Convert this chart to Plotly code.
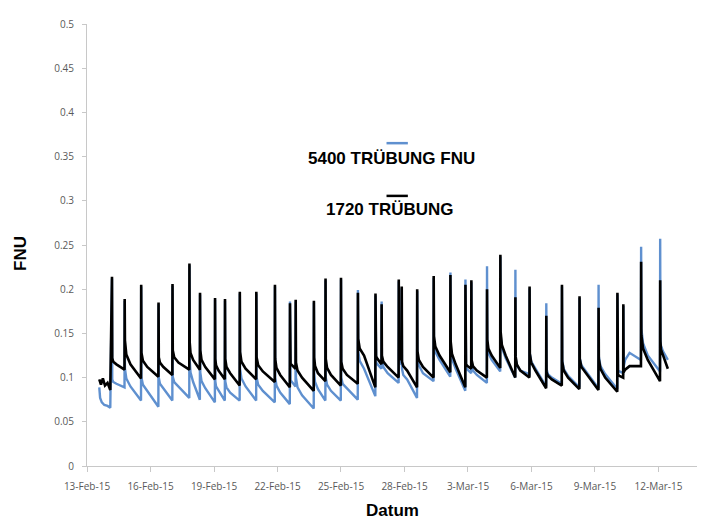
import plotly.graph_objects as go
import pandas as pd

base = pd.Timestamp("2015-02-13")

# spike times (days after 13-Feb-15 00:00)
spike_day = [1.18, 1.78, 2.56, 3.38, 4.04, 4.84, 5.34, 6.05, 6.52, 7.22, 8.0, 8.88, 9.59, 9.86,
             10.72, 11.27, 12.0, 12.8, 13.63, 13.92, 14.73, 14.87, 15.6, 16.38, 17.17, 17.88,
             18.16, 18.9, 19.53, 20.24, 20.91, 21.7, 22.44, 23.27, 24.17, 25.06, 25.34, 26.18, 27.08]
end_day = 27.45

# 1720 TRÜBUNG (black)
black_start_day = [0.58, 0.66, 0.75, 0.85, 0.97, 1.10]
black_start_val = [0.098, 0.092, 0.099, 0.091, 0.094, 0.086]
black_peak = [0.214, 0.189, 0.205, 0.185, 0.206, 0.229, 0.196, 0.190, 0.189, 0.197, 0.197, 0.205, 0.184,
              0.188, 0.187, 0.212, 0.213, 0.196, 0.195, 0.183, 0.211, 0.203, 0.200, 0.215, 0.216, 0.205,
              0.210, 0.200, 0.239, 0.191, 0.203, 0.170, 0.205, 0.192, 0.179, 0.196, 0.183, 0.231, 0.210]
black_post = [0.122, 0.142, 0.128, 0.123, 0.131, 0.140, 0.131, 0.121, 0.121, 0.129, 0.123, 0.121, 0.118,
              0.117, 0.123, 0.121, 0.118, 0.144, 0.128, 0.125, 0.125, 0.118, 0.130, 0.147, 0.141, 0.117,
              0.120, 0.143, 0.152, 0.124, 0.127, 0.106, 0.118, 0.121, 0.121, 0.104, 0.106, 0.148, 0.141]
black_early = [0.118, 0.126, 0.119, 0.117, 0.123, 0.128, 0.120, 0.114, 0.112, 0.118, 0.114, 0.111, 0.116,
               0.108, 0.113, 0.111, 0.110, 0.133, 0.124, 0.118, 0.123, 0.113, 0.120, 0.135, 0.127, 0.115,
               0.113, 0.133, 0.137, 0.115, 0.117, 0.102, 0.108, 0.112, 0.110, 0.103, 0.109, 0.133, 0.132]
black_mid = [0.115, 0.115, 0.112, 0.112, 0.117, 0.120, 0.112, 0.108, 0.105, 0.110, 0.107, 0.103, 0.114,
             0.100, 0.105, 0.103, 0.103, 0.125, 0.121, 0.112, 0.122, 0.108, 0.112, 0.125, 0.115, 0.113,
             0.108, 0.125, 0.125, 0.108, 0.108, 0.098, 0.100, 0.105, 0.100, 0.102, 0.113, 0.120, 0.125]
black_trough = [0.109, 0.099, 0.101, 0.103, 0.109, 0.109, 0.098, 0.098, 0.091, 0.098, 0.095, 0.089, 0.110,
                0.085, 0.096, 0.091, 0.093, 0.089, 0.115, 0.100, 0.120, 0.089, 0.100, 0.106, 0.089, 0.110,
                0.100, 0.111, 0.100, 0.100, 0.088, 0.091, 0.087, 0.086, 0.084, 0.100, 0.113, 0.096, 0.110]

# 5400 TRÜBUNG FNU (blue)
blue_start_day = [0.58, 0.62, 0.70, 0.82, 0.97, 1.10]
blue_start_val = [0.089, 0.077, 0.072, 0.069, 0.068, 0.066]
blue_peak = [0.212, 0.187, 0.203, 0.183, 0.204, 0.227, 0.194, 0.188, 0.187, 0.195, 0.195, 0.203, 0.186,
             0.186, 0.185, 0.210, 0.211, 0.199, 0.193, 0.186, 0.209, 0.201, 0.198, 0.213, 0.219, 0.211,
             0.208, 0.226, 0.237, 0.222, 0.201, 0.184, 0.203, 0.190, 0.205, 0.194, 0.181, 0.248, 0.257]
blue_post = [0.098, 0.110, 0.100, 0.100, 0.101, 0.120, 0.106, 0.096, 0.096, 0.110, 0.100, 0.100, 0.100,
             0.100, 0.105, 0.100, 0.100, 0.130, 0.120, 0.120, 0.120, 0.110, 0.125, 0.140, 0.135, 0.113,
             0.115, 0.138, 0.148, 0.122, 0.127, 0.110, 0.120, 0.122, 0.124, 0.110, 0.112, 0.155, 0.144]
blue_early = [0.095, 0.099, 0.092, 0.093, 0.095, 0.106, 0.096, 0.090, 0.089, 0.099, 0.092, 0.091, 0.097,
              0.089, 0.095, 0.092, 0.093, 0.119, 0.117, 0.112, 0.118, 0.103, 0.114, 0.129, 0.121, 0.111,
              0.108, 0.128, 0.134, 0.114, 0.118, 0.104, 0.110, 0.114, 0.113, 0.108, 0.120, 0.139, 0.136]
blue_mid = [0.093, 0.090, 0.085, 0.088, 0.090, 0.095, 0.088, 0.085, 0.083, 0.090, 0.085, 0.083, 0.095,
            0.080, 0.087, 0.085, 0.088, 0.110, 0.115, 0.105, 0.117, 0.098, 0.105, 0.120, 0.110, 0.109,
            0.103, 0.120, 0.122, 0.108, 0.110, 0.100, 0.102, 0.107, 0.104, 0.107, 0.128, 0.125, 0.130]
blue_trough = [0.089, 0.074, 0.067, 0.074, 0.077, 0.075, 0.072, 0.074, 0.074, 0.074, 0.072, 0.070, 0.090,
               0.065, 0.074, 0.074, 0.075, 0.079, 0.110, 0.094, 0.115, 0.077, 0.096, 0.101, 0.085, 0.105,
               0.094, 0.107, 0.100, 0.104, 0.090, 0.093, 0.089, 0.088, 0.087, 0.105, 0.120, 0.107, 0.120]

tick_days = [0, 3, 6, 9, 12, 15, 18, 21, 24, 27]
y_ticks = [0, 0.05, 0.1, 0.15, 0.2, 0.25, 0.3, 0.35, 0.4, 0.45, 0.5]
y_labels = ["0", "0.05", "0.1", "0.15", "0.2", "0.25", "0.3", "0.35", "0.4", "0.45", "0.5"]


def build(start_days, start_vals, peaks, posts, earlies, mids, troughs):
    d = list(start_days)
    v = list(start_vals)
    n = len(spike_day)
    for k in range(n):
        t = spike_day[k]
        nxt = spike_day[k + 1] if k + 1 < n else end_day
        gap = nxt - t
        d += [t, t + 0.012, t + 0.1 * gap, t + 0.35 * gap, nxt - 0.008]
        v += [peaks[k], posts[k], earlies[k], mids[k], troughs[k]]
    times = base + pd.to_timedelta(d, unit="D")
    return times, v


bx, by = build(black_start_day, black_start_val, black_peak, black_post, black_early, black_mid, black_trough)
ux, uy = build(blue_start_day, blue_start_val, blue_peak, blue_post, blue_early, blue_mid, blue_trough)

BLUE = "#5f90cf"
fig = go.Figure()
fig.add_trace(go.Scatter(x=ux, y=uy, mode="lines", name="5400 TRÜBUNG FNU",
                         line=dict(color=BLUE, width=2.4)))
fig.add_trace(go.Scatter(x=bx, y=by, mode="lines", name="1720 TRÜBUNG",
                         line=dict(color="#000000", width=2.6)))

tickvals = [base + pd.Timedelta(days=d) for d in tick_days]
ticktext = [t.strftime("%-d-%b-%y") for t in tickvals]

# the page body adds an 8px margin, so the figure is 8px smaller than the window
fig.update_layout(
    width=700, height=511,
    margin=dict(l=79, r=11, t=8, b=53),
    paper_bgcolor="white", plot_bgcolor="white",
    showlegend=False,
    font=dict(family="Open Sans", size=10, color="#595959"),
    xaxis=dict(range=[base, base + pd.Timedelta(days=28.82)],
               tickvals=tickvals, ticktext=ticktext,
               showgrid=False, zeroline=False,
               showline=True, linecolor="#c8c8c8", linewidth=1,
               ticks="outside", ticklen=5, tickcolor="#c8c8c8",
               ticklabelstandoff=6,
               tickfont=dict(size=10, color="#595959")),
    yaxis=dict(range=[0, 0.5], tickvals=y_ticks, ticktext=y_labels,
               showgrid=False, zeroline=False,
               showline=True, linecolor="#c8c8c8", linewidth=1,
               ticks="outside", ticklen=4, tickcolor="#c8c8c8",
               ticklabelstandoff=6,
               tickfont=dict(size=10, color="#595959")),
)

title_font = dict(family="Liberation Sans", size=17, color="#000000")
fig.add_annotation(text="<b>Datum</b>", xref="paper", yref="paper", x=0.5, y=-0.1,
                   showarrow=False, font=title_font, xanchor="center", yanchor="middle")
fig.add_annotation(text="<b>FNU</b>", xref="paper", yref="paper", x=-0.108, y=0.48,
                   showarrow=False, font=title_font, textangle=-90,
                   xanchor="center", yanchor="middle")

# legend (symbol line above each label)
fig.add_shape(type="line", xref="paper", yref="paper", x0=0.491, x1=0.526, y0=0.7304, y1=0.7304,
              line=dict(color=BLUE, width=2.5))
fig.add_annotation(text="<b>5400 TRÜBUNG FNU</b>", xref="paper", yref="paper", x=0.4985, y=0.6967,
                   showarrow=False, font=title_font, xanchor="center", yanchor="middle")
fig.add_shape(type="line", xref="paper", yref="paper", x0=0.491, x1=0.526, y0=0.6111, y1=0.6111,
              line=dict(color="#000000", width=2.5))
fig.add_annotation(text="<b>1720 TRÜBUNG</b>", xref="paper", yref="paper", x=0.4975, y=0.58,
                   showarrow=False, font=title_font, xanchor="center", yanchor="middle")

fig.write_html("out.html")
